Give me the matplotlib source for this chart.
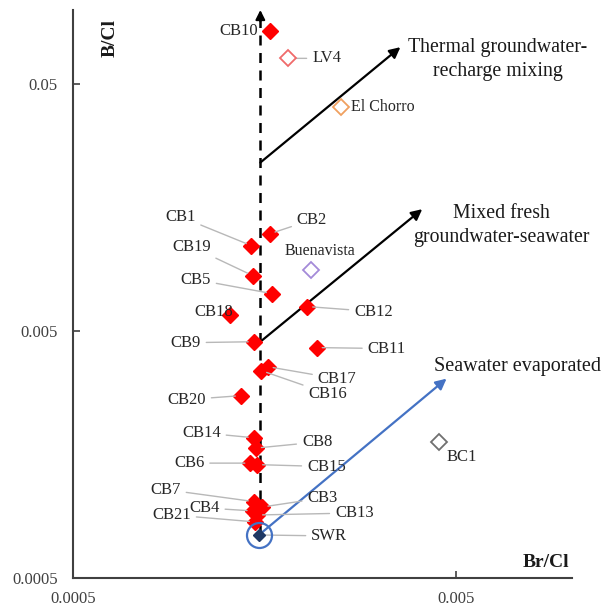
import matplotlib.pyplot as plt

plt.rcParams['font.family'] = ['Liberation Serif', 'DejaVu Serif']

# wells (red filled diamonds)
names = ["CB1", "CB2", "CB3", "CB4", "CB5", "CB6", "CB7", "CB8", "CB9", "CB10",
         "CB11", "CB12", "CB13", "CB14", "CB15", "CB16", "CB17", "CB18", "CB19",
         "CB20", "CB21"]
br_cl = [0.00146, 0.00163, 0.00156, 0.00147, 0.00165, 0.00145, 0.00148, 0.00150,
         0.00148, 0.00163, 0.00216, 0.00204, 0.00151, 0.00148, 0.00151, 0.00155,
         0.00161, 0.00128, 0.00147, 0.00137, 0.00149]
b_cl = [0.0111, 0.0124, 0.00097, 0.000935, 0.0071, 0.00146, 0.00102, 0.00168,
        0.00453, 0.082, 0.00429, 0.00629, 0.0009, 0.00185, 0.00144, 0.00346,
        0.00359, 0.00583, 0.0084, 0.00274, 0.000844]

# other sources (hollow diamonds)
src_names = ["LV4", "El Chorro", "Buenavista", "BC1"]
src_br_cl = [0.00182, 0.0025, 0.00209, 0.00449]
src_b_cl = [0.0637, 0.0403, 0.00888, 0.00178]
src_colors = ["#f06a6a", "#f0a060", "#a48ad8", "#707070"]

# seawater reference
swr_br_cl = 0.00153
swr_b_cl = 0.000747

# trend arrows (start, end)
thermal_arrow = [(0.00154, 0.0241), (0.00357, 0.0707)]
mixed_arrow = [(0.00154, 0.00453), (0.00407, 0.0156)]
seawater_arrow = [(0.00156, 0.000768), (0.00471, 0.00321)]
vertical_x = 0.00154

# label offsets in pixels (dx, dy, ha, leader)
offsets = {
    "CB1": (-56, 29, "right", True), "CB2": (27, 14, "left", True),
    "CB3": (45, 9, "left", True), "CB4": (-33, 3, "right", True),
    "CB5": (-61, 14, "right", True), "CB6": (-46, 0, "right", True),
    "CB7": (-73, 12, "right", True), "CB8": (46, 6, "left", True),
    "CB9": (-53, -1, "right", True), "CB10": (-12, 0, "right", False),
    "CB11": (51, -1, "left", True), "CB12": (47, -5, "left", True),
    "CB13": (78, 2, "left", True), "CB14": (-33, 5, "right", True),
    "CB15": (50, -2, "left", True), "CB16": (47, -23, "left", True),
    "CB17": (50, -12, "left", True), "CB18": (4, 3, "right", False),
    "CB19": (-42, 29, "right", True), "CB20": (-35, -4, "right", True),
    "CB21": (-64, 7, "right", True),
}
src_offsets = {
    "LV4": (24, 0, "left", True, 12), "El Chorro": (10, 0, "left", False, 11.5),
    "Buenavista": (9, 19, "center", False, 11.5), "BC1": (8, -15, "left", False, 12),
}

fig = plt.figure(figsize=(6.03, 6.06), dpi=100)
ax = fig.add_axes([0.121, 0.0462, 0.8275, 0.9373])
ax.set_xscale('log')
ax.set_yscale('log')
ax.set_xlim(0.0005, 0.01)
ax.set_ylim(0.0005, 0.1)

# vertical dashed trend
ax.plot([vertical_x, vertical_x], [swr_b_cl, 0.097], color='black', lw=1.8,
        ls=(0, (4, 3)), zorder=2)
ax.annotate('', xy=(vertical_x, 0.1), xytext=(vertical_x, 0.09),
            arrowprops=dict(arrowstyle='-|>', color='black', lw=1.5,
                            mutation_scale=14, shrinkA=0, shrinkB=0))

for (x0, y0), (x1, y1), c in [(thermal_arrow[0], thermal_arrow[1], 'black'),
                              (mixed_arrow[0], mixed_arrow[1], 'black'),
                              (seawater_arrow[0], seawater_arrow[1], '#4472c4')]:
    ax.annotate('', xy=(x1, y1), xytext=(x0, y0),
                arrowprops=dict(arrowstyle='-|>', color=c, lw=1.6,
                                mutation_scale=16, shrinkA=0, shrinkB=0))

ax.text(0.0064, 0.0631, "Thermal groundwater-\nrecharge mixing", fontsize=14.3,
        ha='center', va='center', linespacing=1.35, color='#1a1a1a',
        multialignment='center')
ax.text(0.00655, 0.0134, "Mixed fresh\ngroundwater-seawater", fontsize=14.3,
        ha='center', va='center', linespacing=1.35, color='#1a1a1a',
        multialignment='center')
ax.text(0.00438, 0.00359, "Seawater evaporated", fontsize=14.5, ha='left',
        va='center', color='#1a1a1a')

ax.plot(br_cl, b_cl, ls='none', marker='D', ms=8, color='red', mec='red', zorder=4)

for n, x, y, c in zip(src_names, src_br_cl, src_b_cl, src_colors):
    ax.plot(x, y, ls='none', marker='D', ms=8, mfc='white', mec=c, mew=1.3, zorder=4)

ax.plot(swr_br_cl, swr_b_cl, ls='none', marker='D', ms=6, color='#1f3864', zorder=5)
ax.plot(swr_br_cl, swr_b_cl, ls='none', marker='o', ms=18, mfc='none',
        mec='#4472c4', mew=1.6, zorder=5)

leader = dict(arrowstyle='-', color='#b8b8b8', lw=1.0, shrinkA=2, shrinkB=4)
for n, x, y in zip(names, br_cl, b_cl):
    dx, dy, ha, has_leader = offsets[n]
    ax.annotate(n, xy=(x, y), xytext=(dx, dy), textcoords='offset pixels',
                ha=ha, va='center', fontsize=12, color='#262626',
                arrowprops=leader if has_leader else None, zorder=6)
ax.annotate("SWR", xy=(swr_br_cl, swr_b_cl), xytext=(52, -1),
            textcoords='offset pixels', ha='left', va='center', fontsize=12,
            color='#262626', arrowprops=leader)
for n, x, y in zip(src_names, src_br_cl, src_b_cl):
    dx, dy, ha, has_leader, fs = src_offsets[n]
    ax.annotate(n, xy=(x, y), xytext=(dx, dy), textcoords='offset pixels',
                ha=ha, va='center', fontsize=fs, color='#262626',
                arrowprops=leader if has_leader else None)

ax.spines['top'].set_visible(False)
ax.spines['right'].set_visible(False)
for s in ['left', 'bottom']:
    ax.spines[s].set_color('#404040')
    ax.spines[s].set_linewidth(1.5)

ax.set_xticks([0.0005, 0.005])
ax.set_xticklabels(["0.0005", "0.005"])
ax.set_yticks([0.0005, 0.005, 0.05])
ax.set_yticklabels(["0.0005", "0.005", "0.05"])
ax.minorticks_off()
ax.tick_params(direction='in', length=5, width=1.2, color='#404040',
               labelsize=12, labelcolor='#404040')
ax.tick_params(axis='x', pad=9)
ax.tick_params(axis='y', pad=11)

ax.text(0.00854, 0.00058, "Br/Cl", fontsize=14, fontweight='bold', ha='center',
        va='center', color='#1a1a1a')
ax.text(0.000624, 0.077, "B/Cl", fontsize=14, fontweight='bold', ha='center',
        va='center', rotation=90, color='#1a1a1a')

fig.savefig("out.png", dpi=100)
